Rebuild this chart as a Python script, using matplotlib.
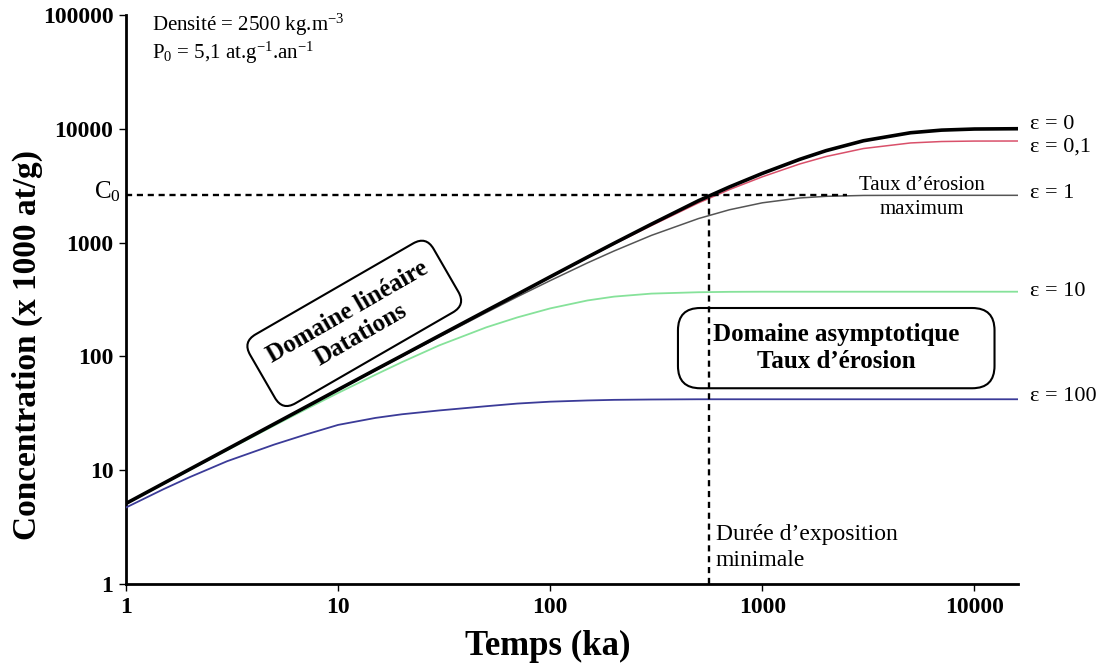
import matplotlib
matplotlib.use('Agg')
import matplotlib.pyplot as plt
from matplotlib.patches import FancyBboxPatch
import matplotlib.transforms as mtransforms


# Exposure time (ka)
temps = [1, 1.5, 2, 3, 5, 7, 10, 15, 20, 30, 50, 70, 100, 150, 200, 300,
         500, 700, 1000, 1500, 2000, 3000, 5000, 7000, 10000, 16000]

# Concentration (x 1000 at/g) for each erosion rate
conc_eps0 = [5.1, 7.65, 10.2, 15.3, 25.5, 35.7, 51.0, 76.4, 101.5, 152, 252, 351,
             500, 745, 985, 1450, 2330, 3080, 4050, 5380, 6420, 7840, 9220, 9720,
             9940, 10000]
conc_eps01 = [5.1, 7.65, 10.2, 15.3, 25.5, 35.6, 50.8, 76, 101, 151, 250, 348,
              496, 735, 970, 1410, 2230, 2920, 3780, 4900, 5700, 6700, 7500, 7720,
              7790, 7800]
conc_eps1 = [5.09, 7.63, 10.16, 15.2, 25.2, 35.2, 50.5, 75.4, 100, 148, 243, 334,
             463, 663, 843, 1156, 1624, 1941, 2234, 2463, 2548, 2593, 2600, 2600,
             2600, 2600]
conc_eps10 = [5.07, 7.57, 10.06, 15.0, 24.7, 34.1, 47.7, 69, 89, 125, 180, 220,
              264, 310, 335, 356, 366, 369, 370, 370, 370, 370, 370, 370, 370, 370]
conc_eps100 = [4.7, 6.8, 8.7, 12.0, 16.8, 20.5, 25, 28.8, 31, 33.5, 36.5, 38.5,
               40, 41, 41.5, 41.8, 42, 42, 42, 42, 42, 42, 42, 42, 42, 42]

series_labels = ['ε = 0', 'ε = 0,1', 'ε = 1', 'ε = 10', 'ε = 100']

# Reference values (dashed lines)
C0 = 2600
t_min = 560

x_ticks = [1, 10, 100, 1000, 10000]
x_ticklabels = ['1', '10', '100', '1000', '10000']
y_ticks = [1, 10, 100, 1000, 10000, 100000]
y_ticklabels = ['1', '10', '100', '1000', '10000', '100000']


def plot_concentration():

    plt.rcParams['font.family'] = 'Liberation Serif'
    plt.rcParams['mathtext.fontset'] = 'custom'
    plt.rcParams['mathtext.rm'] = 'Liberation Serif'
    plt.rcParams['mathtext.it'] = 'Liberation Serif:italic'
    plt.rcParams['mathtext.bf'] = 'Liberation Serif:bold'

    fig = plt.figure(figsize=(11.05, 6.68), dpi=100)
    ax = fig.add_axes([0.114, 0.1257, 0.807, 0.852])

    # Curves
    ax.plot(temps, conc_eps100, color='#3B3B98', lw=1.3, zorder=3)
    ax.plot(temps, conc_eps10, color='#86E29A', lw=1.3, zorder=3)
    ax.plot(temps, conc_eps1, color='#555555', lw=1.1, zorder=3)
    ax.plot(temps, conc_eps01, color='#D9506A', lw=1.1, zorder=3)
    ax.plot(temps, conc_eps0, color='black', lw=2.6, zorder=4)

    # Dashed lines: C0 and minimal exposure time
    ax.plot([1, 2500], [C0, C0], color='black', lw=1.7, ls=(0, (2.6, 2.0)), zorder=5)
    ax.plot([t_min, t_min], [1, C0], color='black', lw=1.7, ls=(0, (2.6, 2.0)), zorder=5)

    # Axes
    ax.set_xscale('log')
    ax.set_yscale('log')
    ax.set_xlim(1, 16000)
    ax.set_ylim(1, 100000)
    ax.set_xticks(x_ticks)
    ax.set_xticklabels(x_ticklabels)
    ax.set_yticks(y_ticks)
    ax.set_yticklabels(y_ticklabels)
    ax.minorticks_off()
    for lab in ax.get_xticklabels() + ax.get_yticklabels():
        lab.set_fontweight('bold')
        lab.set_fontsize(17)
    ax.tick_params(axis='both', direction='out', length=5, width=1, pad=4)
    ax.spines['top'].set_visible(False)
    ax.spines['right'].set_visible(False)
    ax.spines['left'].set_linewidth(2)
    ax.spines['bottom'].set_linewidth(2)

    ax.set_xlabel('Temps (ka)', fontsize=25, fontweight='bold')
    ax.xaxis.set_label_coords(0.473, -0.08)
    ax.set_ylabel('Concentration (x 1000 at/g)', fontsize=24, fontweight='bold')
    ax.yaxis.set_label_coords(-0.093, 0.42)

    # Curve labels on the right
    trans = mtransforms.blended_transform_factory(ax.transAxes, ax.transData)
    label_y = [10840, 6950, 2690, 372, 44.6]
    for lab, yy in zip(series_labels, label_y):
        ax.text(1.0135, yy, lab, transform=trans, fontsize=16, va='center', ha='left')

    # C0 label
    ax.text(-0.006, C0 * 1.07, r'C$_0$', transform=trans, fontsize=18,
            ha='right', va='center')

    # Parameters
    ax.text(0.029, 0.982, r'Densité = 2500 kg.m$^{-3}$', transform=ax.transAxes,
            fontsize=15, va='center', ha='left')
    ax.text(0.029, 0.933, r'P$_0$ = 5,1 at.g$^{-1}$.an$^{-1}$', transform=ax.transAxes,
            fontsize=15, va='center', ha='left')

    # Annotations
    ax.text(5640, 2480, 'Taux d’érosion\nmaximum', fontsize=15, ha='center',
            va='center', linespacing=1.35)
    ax.text(602, 2.09, 'Durée d’exposition\nminimale', fontsize=17, ha='left',
            va='center', linespacing=1.3)

    # Linear domain box (rotated)
    ax.text(0.256, 0.458, 'Domaine linéaire\nDatations', transform=ax.transAxes,
            fontsize=18, fontweight='bold', ha='center', va='center', rotation=30,
            rotation_mode='anchor', multialignment='center', zorder=6,
            bbox=dict(boxstyle='round,pad=0.6', fc='white', ec='black', lw=1.5))

    # Asymptotic domain box
    box = FancyBboxPatch((0.619, 0.344), 0.355, 0.141, transform=ax.transAxes,
                         boxstyle='round,pad=0,rounding_size=0.025',
                         mutation_aspect=1.568, fc='none', ec='black', lw=1.5,
                         zorder=6, clip_on=False)
    ax.add_patch(box)
    ax.text(0.797, 0.4145, 'Domaine asymptotique\nTaux d’érosion', transform=ax.transAxes,
            fontsize=18, fontweight='bold', ha='center', va='center',
            multialignment='center', linespacing=1.25, zorder=7)

    plt.savefig('out.png', dpi=100)


plot_concentration()
